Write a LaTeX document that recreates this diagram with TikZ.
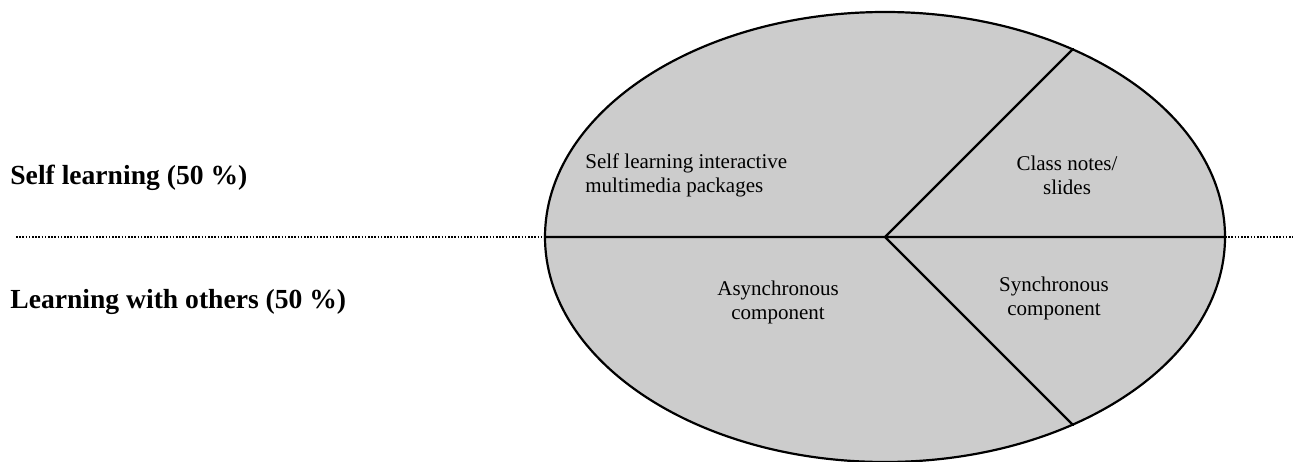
\documentclass[tikz,border=0pt]{standalone}
\usepackage{fontspec}
\setmainfont{Liberation Serif}
\definecolor{piegray}{RGB}{204,204,204}
\begin{document}
\begin{tikzpicture}[x=0.5pt,y=0.5pt,line join=round,line cap=round,
	part/.style={font=\fontsize{10.5}{12}\selectfont,align=center,inner sep=0pt},
	side/.style={font=\fontsize{13.8}{15}\selectfont\bfseries,anchor=west,inner sep=0pt},
	dots/.style={line width=1.1pt,line cap=butt,dash pattern=on 0.8pt off 0.8pt}]
			\useasboundingbox (0,0) rectangle (1293,461);
			\coordinate (O) at (885,224);
			\coordinate (up) at (1073,412);
			\coordinate (down) at (1073,36);
			\coordinate (west) at (545,224);
			\coordinate (east) at (1225,224);
			\filldraw[fill=piegray,line width=1.1pt] (O) ellipse (340 and 225);
			\draw[line width=1.1pt] (west)--(east) (up)--(O)--(down);
			\coordinate (a) at (16,224);
			\coordinate (b) at (1293,224);
			\draw[dots] (a)--(west) (east)--(b);
			\node[side] (self) at (10,283) {Self learning (50 \%)};
			\node[side] (others) at (10,159) {Learning with others (50 \%)};
			\node[part,align=left,anchor=west] (pkg) at (585,286) {Self learning interactive\\multimedia packages};
			\node[part] (notes) at (1067,286) {Class notes/\\slides};
			\node[part] (async) at (778,159) {Asynchronous\\component};
			\node[part] (sync) at (1054,163) {Synchronous\\component};
		\end{tikzpicture}
\end{document}
